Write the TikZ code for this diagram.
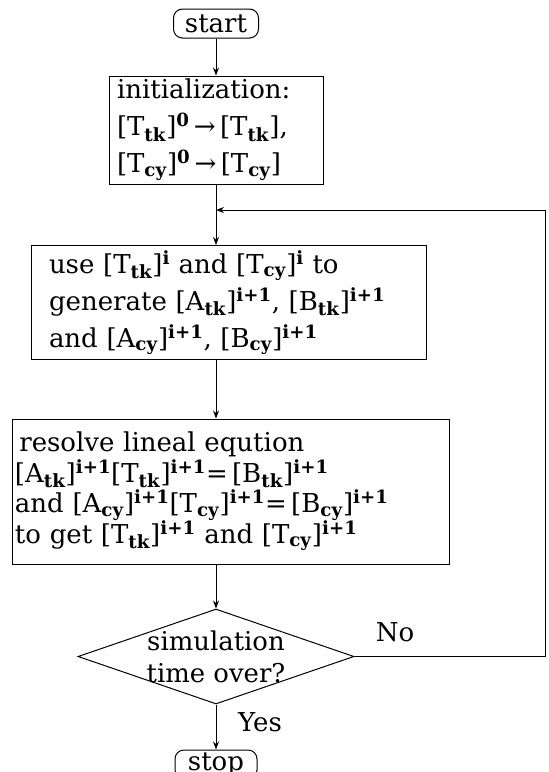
\documentclass[tikz,border=0pt]{standalone}
\usepackage{fontspec}
\setmainfont{DejaVu Serif}
\usepackage{tikz}
\usetikzlibrary{positioning, arrows.meta, shapes.geometric}
\newcommand{\Mx}[3]{[#1\textsubscript{\textbf{#2}}]\textsuperscript{\textbf{#3}}}
\newcommand{\Mn}[2]{[#1\textsubscript{\textbf{#2}}]}
\newcommand{\boxfont}{\fontsize{26}{37}\selectfont\fontdimen2\font=0.55em\relax}
\newcommand{\tightlines}{\fontsize{26}{30.5}\selectfont\fontdimen2\font=0.55em\lineskiplimit=-30pt\relax}

\begin{document}
\begin{tikzpicture}[x=1pt, y=-1pt, line width=1pt,
    font=\fontsize{26}{37}\selectfont,
    term/.style={draw, rounded corners=9pt, minimum width=85, minimum height=29, inner sep=0pt},
    procbox/.style={draw, rectangle, align=left, inner ysep=0pt, font=\boxfont},
    decision/.style={draw, diamond, inner sep=0pt},
    flow/.style={-{Stealth[length=8pt, width=6pt]}}]
  \useasboundingbox (0,0) rectangle (549,772);
  \clip (0,0) rectangle (549,772);

  \node[term] (start) at (216,23.5) {start};
  \node[procbox, minimum height=108, inner xsep=8, text width=198] (init) at (216,130)
    {initialization:\\
     \Mx{T}{tk}{0}\,→\,\Mn{T}{tk},\\
     \Mx{T}{cy}{0}\,→\,\Mn{T}{cy}};
  \node[procbox, minimum height=114, inner xsep=18, text width=359] (use) at (228.5,302.5)
    {use \Mx{T}{tk}{i} and \Mx{T}{cy}{i} to\\
     generate \Mx{A}{tk}{i+1}, \Mx{B}{tk}{i+1}\\
     and \Mx{A}{cy}{i+1}, \Mx{B}{cy}{i+1}};
  \node[procbox, minimum height=145, inner xsep=3, text width=431, font=\tightlines] (resolve) at (230.5,491.5)
    {\,resolve lineal eqution\\
     \Mx{A}{tk}{i+1}\Mx{T}{tk}{i+1}=\,\Mx{B}{tk}{i+1}\\
     and \Mx{A}{cy}{i+1}\Mx{T}{cy}{i+1}=\,\Mx{B}{cy}{i+1}\\
     to get \Mx{T}{tk}{i+1} and \Mx{T}{cy}{i+1}};
  \node[decision, minimum width=276, minimum height=95] (check) at (216,656.5) {};
  \node[align=center, font=\fontsize{25.9}{32}\selectfont] (checktext) at (check) {simulation\\time over?};
  \node[term, minimum width=82] (stop) at (216,764.5) {stop};
  \node (nolabel) at (395,632) {No};
  \node (yeslabel) at (260,722) {Yes};

  \coordinate (merge) at (216,210);
  \coordinate (corner) at (545,210);

  \draw[flow] (start) -- (init);
  \draw[flow] (init.south) -- (init.south |- use.north);
  \draw[flow] (check.east) -| (corner) -- (merge);
  \draw[flow] (init.south |- use.south) -- (init.south |- resolve.north);
  \draw[flow] (init.south |- resolve.south) -- (check.north);
  \draw[flow] (check.south) -- (stop.north);
\end{tikzpicture}
\end{document}
